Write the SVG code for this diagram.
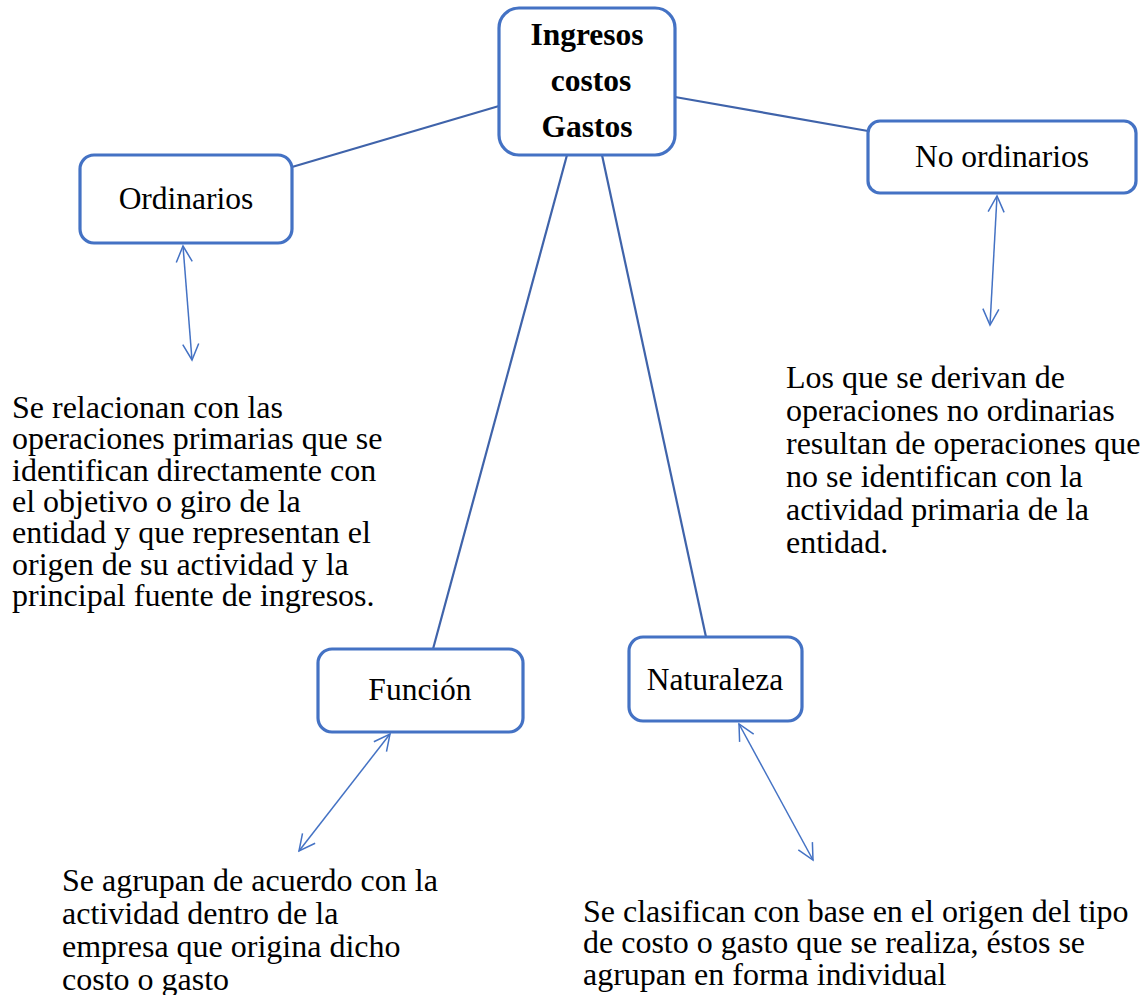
<svg xmlns="http://www.w3.org/2000/svg" width="1146" height="995" viewBox="0 0 1146 995">
<style>
.box{fill:#fff;stroke:#4472C4;stroke-width:3.2}
.lbl{font-family:'Liberation Serif','Times New Roman',serif;font-size:31.5px;fill:#000;text-anchor:middle}
.ttl{font-family:'Liberation Serif','Times New Roman',serif;font-size:31.5px;font-weight:bold;fill:#000;text-anchor:middle}
.para{font-family:'Liberation Serif','Times New Roman',serif;font-size:32px;fill:#000}
.link{stroke:#3F63AA;stroke-width:2.2;fill:none}
.dbl{stroke:#4472C4;stroke-width:1.5;fill:none;marker-start:url(#ah);marker-end:url(#ah)}
</style>
<defs>
<marker id="ah" viewBox="0 0 20 20" refX="18" refY="10" markerWidth="20" markerHeight="20" markerUnits="userSpaceOnUse" orient="auto-start-reverse">
<path d="M2,2 L18,10 L2,18" fill="none" stroke="#4472C4" stroke-width="1.5"/>
</marker>
</defs>
<g id="connectors">
<line class="link" x1="499" y1="106" x2="292" y2="167"/>
<line class="link" x1="675" y1="97" x2="868" y2="131"/>
<line class="link" x1="567" y1="155" x2="433" y2="649"/>
<line class="link" x1="602" y1="155" x2="706" y2="637"/>
<line class="dbl" x1="183" y1="246" x2="192" y2="360"/>
<line class="dbl" x1="997" y1="196" x2="990" y2="325"/>
<line class="dbl" x1="390" y1="734" x2="299" y2="851"/>
<line class="dbl" x1="739" y1="724" x2="813" y2="860"/>
</g>
<g id="center">
<rect class="box" x="499" y="8" width="176" height="147" rx="20"/>
<text class="ttl" x="587" y="45">Ingresos</text>
<text class="ttl" x="591" y="91">costos</text>
<text class="ttl" x="587" y="137">Gastos</text>
</g>
<g id="ordinarios">
<rect class="box" x="80" y="155" width="212" height="88" rx="14"/>
<text class="lbl" x="186" y="209">Ordinarios</text>
</g>
<g id="no-ordinarios">
<rect class="box" x="868" y="121" width="268" height="72" rx="12"/>
<text class="lbl" x="1002" y="167">No ordinarios</text>
</g>
<g id="funcion">
<rect class="box" x="318" y="649" width="205" height="83" rx="14"/>
<text class="lbl" x="420" y="700">Función</text>
</g>
<g id="naturaleza">
<rect class="box" x="629" y="637" width="173" height="84" rx="14"/>
<text class="lbl" x="715" y="690">Naturaleza</text>
</g>
<g id="text-ordinarios">
<text class="para" x="12" y="418">Se relacionan con las</text>
<text class="para" x="12" y="449">operaciones primarias que se</text>
<text class="para" x="12" y="481">identifican directamente con</text>
<text class="para" x="12" y="512">el objetivo o giro de la</text>
<text class="para" x="12" y="543">entidad y que representan el</text>
<text class="para" x="12" y="575">origen de su actividad y la</text>
<text class="para" x="12" y="606">principal fuente de ingresos.</text>
</g>
<g id="text-no-ordinarios">
<text class="para" x="786" y="388">Los que se derivan de</text>
<text class="para" x="786" y="421">operaciones no ordinarias</text>
<text class="para" x="786" y="454">resultan de operaciones que</text>
<text class="para" x="786" y="487">no se identifican con la</text>
<text class="para" x="786" y="520">actividad primaria de la</text>
<text class="para" x="786" y="553">entidad.</text>
</g>
<g id="text-funcion">
<text class="para" x="62" y="891">Se agrupan de acuerdo con la</text>
<text class="para" x="62" y="924">actividad dentro de la</text>
<text class="para" x="62" y="957">empresa que origina dicho</text>
<text class="para" x="62" y="990">costo o gasto</text>
</g>
<g id="text-naturaleza">
<text class="para" x="583" y="922">Se clasifican con base en el origen del tipo</text>
<text class="para" x="583" y="953">de costo o gasto que se realiza, éstos se</text>
<text class="para" x="583" y="985">agrupan en forma individual</text>
</g>
</svg>
